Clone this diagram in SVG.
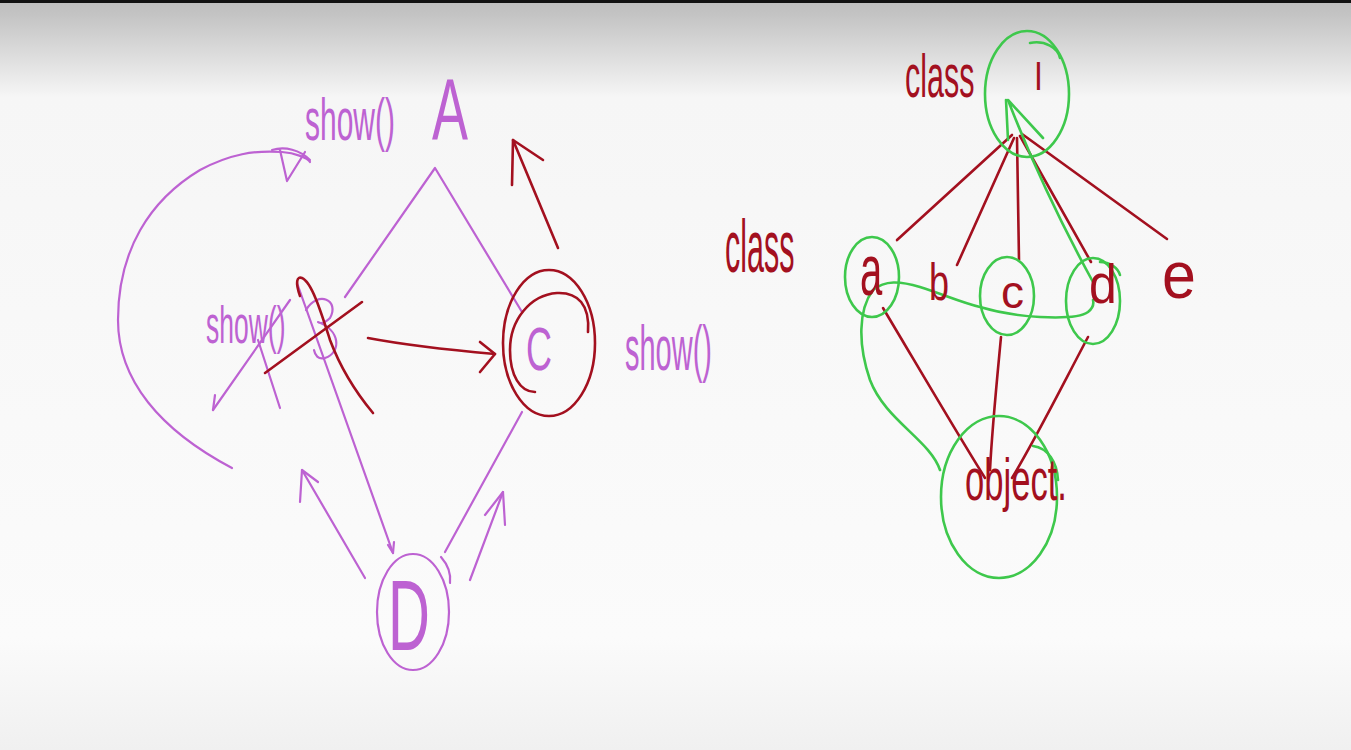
<svg xmlns="http://www.w3.org/2000/svg" width="1351" height="750" viewBox="0 0 1351 750">
<defs>
<linearGradient id="bg" x1="0" y1="0" x2="0" y2="750" gradientUnits="userSpaceOnUse">
<stop offset="0" stop-color="#bdbdbd"/>
<stop offset="0.02" stop-color="#c4c4c4"/>
<stop offset="0.13" stop-color="#f6f6f6"/>
<stop offset="0.85" stop-color="#fbfbfb"/>
<stop offset="1" stop-color="#f0f0f0"/>
</linearGradient>
<style>
.p{fill:none;stroke:#bd62d2;stroke-width:2.2;stroke-linecap:round;stroke-linejoin:round}
.r{fill:none;stroke:#a3101f;stroke-width:2.6;stroke-linecap:round;stroke-linejoin:round}
.g{fill:none;stroke:#3ec84c;stroke-width:2.6;stroke-linecap:round;stroke-linejoin:round}
.tp{fill:#bd62d2;font-family:"Liberation Sans",sans-serif}
.tr{fill:#a3101f;font-family:"Liberation Sans",sans-serif}
</style>
</defs>
<rect x="0" y="0" width="1351" height="750" fill="url(#bg)"/>
<rect x="0" y="0" width="1351" height="3" fill="#111"/>

<!-- connectors -->
<g id="connectors">
  <path class="p" d="M345,297 L435,168 L522,312"/>
  <path class="p" d="M232,468 C160,430 118,380 118,320 C118,250 150,200 200,170 C230,154 255,150 282,152 C295,153 308,158 310,162"/>
  <path class="p" d="M272,150 C285,146 300,150 310,160 M305,152 L287,181 L280,150"/>
  <path class="p" d="M213,410 L290,300"/>
  <path class="p" d="M213,410 L215,395"/>
  <path class="p" d="M258,340 L280,408"/>
  <path class="p" d="M297,283 L393,553"/>
  <path class="p" d="M388,545 L393,553 L394,542"/>
  <path class="p" d="M306,310 C318,290 340,300 330,318 C322,326 318,322 318,322 C340,330 342,352 325,358 C318,360 315,355 314,350"/>
  <path class="r" d="M265,373 L362,302"/>
  <path class="r" d="M300,296 C295,282 297,276 302,278 C312,282 322,315 330,340 C342,372 358,395 373,413"/>
  <path class="r" d="M368,338 C410,346 450,350 495,354"/>
  <path class="r" d="M480,342 L495,354 L480,372"/>
  <path class="r" d="M558,248 L513,140"/>
  <path class="r" d="M512,185 L513,140 L543,160"/>
  <path class="p" d="M522,412 L445,552"/>
  <path class="p" d="M365,578 L302,470"/>
  <path class="p" d="M300,502 L302,470 L318,482"/>
  <path class="p" d="M470,580 L503,492"/>
  <path class="p" d="M505,525 L503,492 L485,515"/>

  <path class="r" d="M1012,135 L897,240"/>
  <path class="r" d="M1014,138 L957,265"/>
  <path class="r" d="M1017,138 L1019,260"/>
  <path class="r" d="M1020,136 L1091,262"/>
  <path class="r" d="M1022,134 L1167,239"/>
  <path class="g" d="M1093,282 C1070,240 1035,170 1008,100 L1043,138"/>
  <path class="g" d="M1006,100 L1008,140"/>
  <path class="r" d="M883,308 C920,370 955,430 985,478"/>
  <path class="r" d="M1001,337 C996,390 992,430 990,470"/>
  <path class="r" d="M1088,337 C1060,390 1035,440 1012,478"/>
  <path class="g" d="M940,470 C930,440 885,420 870,380 C858,345 858,310 873,290 C885,280 900,281 920,287 C945,295 960,302 980,307 C1000,313 1020,316 1040,317 C1060,318 1080,318 1088,312 C1093,308 1094,304 1093,300"/>
</g>

<g id="node-A">
  <text class="tp" font-size="30" transform="translate(305,140) scale(1,2)">show()</text>
  <text class="tp" font-size="54" transform="translate(432,140) scale(1,1.63)">A</text>
</g>
<g id="node-B">
  <text class="tp" font-size="26.5" transform="translate(206,343) scale(1,1.95)">show()</text>
</g>
<g id="node-C">
  <ellipse class="r" cx="549" cy="343" rx="46" ry="73"/>
  <path class="r" d="M588,332 C590,305 578,292 557,293 C530,295 510,320 510,350 C510,375 520,392 535,392"/>
  <text class="tp" font-size="36" transform="translate(526,370) scale(1,1.72)">C</text>
  <text class="tp" font-size="29" transform="translate(625,370) scale(1,2.14)">show()</text>
</g>
<g id="node-D">
  <ellipse class="p" cx="413" cy="612" rx="36" ry="58"/>
  <path class="p" d="M441,557 C448,565 451,575 450,583"/>
  <text class="tp" font-size="58" transform="translate(388,650) scale(1,1.72)">D</text>
</g>

<g id="node-I">
  <text class="tr" font-size="30.5" transform="translate(905,97) scale(1,2)">class</text>
  <ellipse class="g" cx="1027" cy="94" rx="42" ry="63"/>
  <path class="g" d="M1030,43 C1045,40 1058,48 1060,58"/>
  <text class="tr" font-size="32" transform="translate(1034,90) scale(1,1.25)">I</text>
</g>
<g id="label-class">
  <text class="tr" font-size="30.5" transform="translate(725,272) scale(1,2.45)">class</text>
</g>
<g id="node-a">
  <ellipse class="g" cx="872" cy="277" rx="27" ry="40"/>
  <text class="tr" font-size="40" transform="translate(860,295) scale(1,1.8)">a</text>
</g>
<g id="node-b">
  <text class="tr" font-size="36" transform="translate(929,300) scale(1,1.44)">b</text>
</g>
<g id="node-c">
  <ellipse class="g" cx="1007" cy="296" rx="27" ry="39"/>
  <text class="tr" font-size="46" x="1001" y="308">c</text>
</g>
<g id="node-d">
  <ellipse class="g" cx="1093" cy="301" rx="27" ry="43"/>
  <path class="g" d="M1100,262 C1110,262 1118,268 1120,275"/>
  <text class="tr" font-size="50" transform="translate(1089,303) scale(1,1.1)">d</text>
</g>
<g id="node-e">
  <text class="tr" font-size="61" transform="translate(1162,298) scale(1,1.08)">e</text>
</g>
<g id="node-object">
  <ellipse class="g" cx="999" cy="497" rx="58" ry="81"/>
  <path class="g" d="M1033,446 C1048,448 1057,462 1058,480"/>
  <text class="tr" font-size="34.6" transform="translate(965,500) scale(1,1.73)">object.</text>
</g>
</svg>
